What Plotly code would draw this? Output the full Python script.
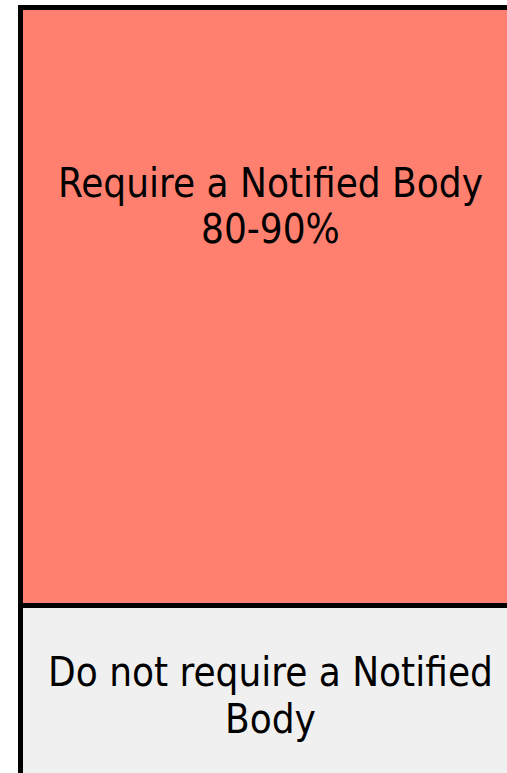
import plotly.graph_objects as go

# Data
categories = ["Devices"]
segment_names = ["Do not require a Notified Body", "Require a Notified Body"]
segment_values = [23, 77]
segment_colors = ["#F0F0F0", "#FF806F"]
red_lines = ["Require a Notified Body", "80-90%"]
grey_lines = ["Do not require a Notified", "Body"]

FONT = "DejaVu Sans Condensed, Tahoma, DejaVu Sans, sans-serif"

fig = go.Figure()
for name, val, col in zip(segment_names, segment_values, segment_colors):
    fig.add_trace(go.Bar(
        x=[0.5], y=[val], width=[1.0], name=name,
        marker=dict(color=col, line=dict(color="black", width=5)),
        hoverinfo="skip", showlegend=False,
    ))

W, H = 507, 773
ann = []
def add_line(text, py):
    ann.append(dict(text=text, x=270 / W, y=1 - py / H, xref="paper", yref="paper",
                    xanchor="center", yanchor="middle", showarrow=False,
                    font=dict(family=FONT, size=40, color="black")))

for t, py in zip(red_lines, [183, 229]):
    add_line(t, py)
for t, py in zip(grey_lines, [672, 719]):
    add_line(t, py)

fig.update_layout(
    width=W, height=H, barmode="stack",
    margin=dict(l=0, r=0, t=0, b=0),
    paper_bgcolor="white", plot_bgcolor="white",
    xaxis=dict(range=[-0.04, 0.974], visible=False, fixedrange=True),
    yaxis=dict(range=[1.353, 100.97], visible=False, fixedrange=True),
    annotations=ann,
)
fig.write_html(
    "out.html",
    config={"displayModeBar": False},
    post_script="document.body.style.margin='0';document.body.style.overflow='hidden';",
)
